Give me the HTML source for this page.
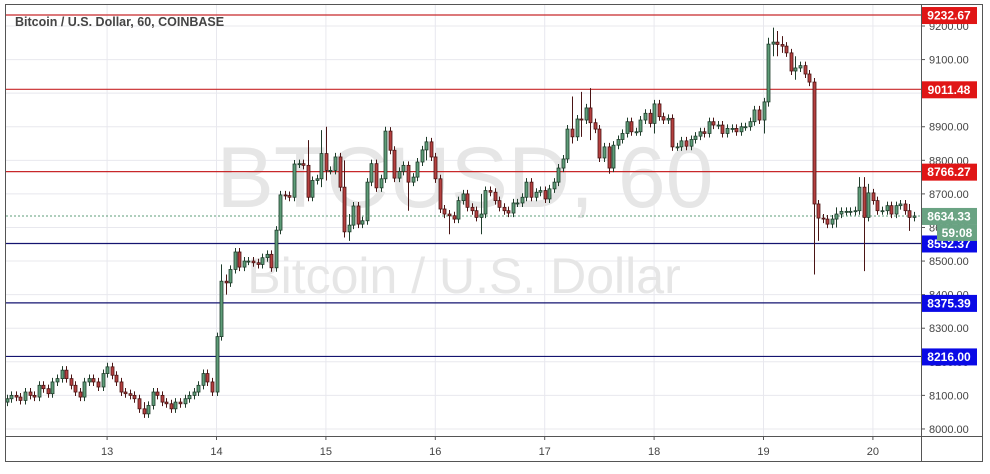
<!DOCTYPE html>
<html><head><meta charset="utf-8">
<style>
html,body{margin:0;padding:0;background:#fff;}
body{width:990px;height:469px;overflow:hidden;font-family:"Liberation Sans",sans-serif;}
svg text{font-family:"Liberation Sans",sans-serif;}
</style></head>
<body>
<svg id="chart" width="990" height="469" viewBox="0 0 990 469" xmlns="http://www.w3.org/2000/svg">
<rect x="0" y="0" width="990" height="469" fill="#fff"/>
<g id="grid"></g>
<g id="watermark">
  <text x="465" y="207" text-anchor="middle" font-size="86" fill="#e6e6e6">BTCUSD, 60</text>
  <text x="464" y="293" text-anchor="middle" font-size="50" fill="#e6e6e6">Bitcoin / U.S. Dollar</text>
</g>
<g id="levels"></g>
<g id="candles"></g>
<g id="axes"></g>
<text x="15" y="26" font-size="12.5" font-weight="bold" fill="#444">Bitcoin / U.S. Dollar, 60, COINBASE</text>
</svg>
<script>
const closes = [
8090,8100,8095,8085,8110,8100,8095,8130,8120,8105,8140,8150,8175,8150,8130,8110,8095,8140,8150,8140,8125,8165,
8185,8160,8140,8110,8105,8100,8090,8060,8045,8070,8110,8100,8080,8075,8060,8080,8075,8090,8100,8110,8130,8165,8140,8110,
8275,8440,8435,8475,8527,8482,8500,8500,8495,8490,8510,8520,8480,8592,8697,8695,8690,8789,8790,8785,8690,8740,8745,8820,
8770,8770,8810,8720,8587,8607,8664,8610,8620,8735,8790,8718,8745,8887,8830,8747,8767,8785,8735,8750,8795,8831,8855,8810,
8745,8655,8640,8635,8625,8680,8700,8660,8650,8630,8640,8710,8705,8680,8660,8650,8643,8673,8673,8690,8735,8690,8705,8710,
8685,8715,8735,8777,8804,8893,8870,8923,8920,8956,8912,8893,8807,8840,8777,8845,8862,8880,8915,8885,8885,8920,8940,8910,
8968,8930,8920,8925,8840,8840,8858,8842,8862,8872,8885,8880,8915,8905,8905,8880,8895,8895,8885,8900,8900,8915,8950,8920,
8974,9146,9152,9145,9140,9120,9066,9075,9082,9057,9033,8670,8628,8625,8610,8625,8640,8648,8648,8648,8650,8720,8630,8703,
8680,8650,8650,8665,8640,8665,8670,8650,8630,8634.33
];
const firstOpen = 8080;
const firstHour = 2; // first candle: day 12, 02:00
// notable wick extremes [index, high, low]
const wickExtremes = [
[12,8185,8150],[22,8195,8170],[30,8080,8040],[47,8490,8380],[48,8460,8400],[66,8860,8690],[69,8890,8720],
[70,8900,8740],[74,8800,8570],[75,8640,8560],[83,8900,8740],[88,8780,8650],[92,8870,8800],
[97,8630,8580],[104,8700,8580],[124,8990,8850],[126,9004,8870],[128,9015,8860],[132,8800,8760],
[142,8975,8880],[165,8960,8910],[166,8985,8880],[167,9165,8960],[168,9195,9110],[169,9185,9110],[170,9170,9120],
[173,9110,9040],[177,9040,8460],[178,8640,8560],[182,8660,8600],[187,8750,8640],[188,8750,8470],[189,8730,8620],[198,8670,8590]
];
const yTicks = [8000,8100,8200,8300,8400,8500,8600,8700,8800,8900,9000,9100,9200];
const xTickDays = [13,14,15,16,17,18,19,20];
const levelPrices = [9232.67,9011.48,8766.27,8552.37,8375.39,8216.00];
const levelKinds = ["resistance","resistance","resistance","support","support","support"];

const NS="http://www.w3.org/2000/svg";
const PL=6, PR=921, PT=5, PB=436;
function y(v){return 26+(9200-v)*0.3358;}
function x(day){return -2.3+(day-12)*109.4;}
function mk(tag,attrs,parent){const e=document.createElementNS(NS,tag);for(const k in attrs)e.setAttribute(k,attrs[k]);parent.appendChild(e);return e;}

const grid=document.getElementById('grid');
const axes=document.getElementById('axes');
const levels=document.getElementById('levels');
const cg=document.getElementById('candles');

yTicks.forEach(v=>{
  const l=mk('line',{x1:PL,x2:PR,y1:y(v),y2:y(v),stroke:'#e8e8ee','stroke-width':1},grid);
  
  
});
xTickDays.forEach(d=>{
  const l=mk('line',{x1:x(d),x2:x(d),y1:PT,y2:PB,stroke:'#e8e8ee','stroke-width':1},grid);
  
  
});

const fr=mk('rect',{x:5.5,y:4.5,width:977,height:457,fill:'none',stroke:'#555','stroke-width':1},axes);


const ax1=mk('line',{x1:PR+0.5,x2:PR+0.5,y1:PT,y2:462,stroke:'#555'},axes);


const ax2=mk('line',{x1:5,x2:983,y1:PB+0.5,y2:PB+0.5,stroke:'#555'},axes);



yTicks.forEach(v=>{
  const t=mk('line',{x1:PR,x2:PR+4,y1:y(v),y2:y(v),stroke:'#555'},axes);
  
  
  const tx=mk('text',{x:929,y:y(v)+4,'font-size':11,fill:'#444'},axes);
  tx.textContent=v.toFixed(2);
  
  
});
xTickDays.forEach(d=>{
  const t=mk('line',{x1:x(d),x2:x(d),y1:PB,y2:PB+4,stroke:'#555'},axes);
  
  
  const tx=mk('text',{x:x(d),y:455,'font-size':11,fill:'#444','text-anchor':'middle'},axes);
  tx.textContent=String(d);
  
  
});

const wmap={};wickExtremes.forEach(w=>wmap[w[0]]=w);
closes.forEach((c,i)=>{
  const o=i===0?firstOpen:closes[i-1];
  const up=c>=o;
  let hi=Math.max(o,c)+12, lo=Math.min(o,c)-12;
  if(wmap[i]){hi=Math.max(hi,wmap[i][1]);lo=Math.min(lo,wmap[i][2]);}
  const cx=Math.round(x(12+(firstHour+i)/24));
  const g=mk('g',{},cg);
  
  
  const stroke=up?'#1f3d2b':'#4a1414';
  mk('line',{x1:cx+0.5,x2:cx+0.5,y1:y(hi),y2:y(lo),stroke:stroke,'stroke-width':1},g);
  const top=y(Math.max(o,c)), bot=y(Math.min(o,c));
  mk('rect',{x:cx-1,y:top,width:3,height:Math.max(1,bot-top),fill:up?'#5e9c78':'#b5403f',stroke:stroke,'stroke-width':0.8},g);
});

const last=closes[closes.length-1];
const cl=mk('line',{x1:PL,x2:PR,y1:y(last),y2:y(last),stroke:'#5e9c78','stroke-width':1,'stroke-dasharray':'2,2'},levels);



levelPrices.forEach((p,i)=>{
  const res=levelKinds[i]==='resistance';
  const col=res?'#c8282a':'#141470';
  const l=mk('line',{x1:PL,x2:PR,y1:y(p),y2:y(p),stroke:col,'stroke-width':1.2},levels);
  
  
  const r=mk('rect',{x:922,y:y(p)-8,width:55,height:17,fill:res?'#e01616':'#0a0ae6'},axes);
  
  
  const t=mk('text',{x:949,y:y(p)+4.5,'font-size':12,'font-weight':'bold',fill:'#fff','text-anchor':'middle'},axes);
  t.textContent=p.toFixed(2);
  
  
});

const cr=mk('rect',{x:922,y:y(last)-8,width:55,height:17,fill:'#6aa383'},axes);


const ct=mk('text',{x:949,y:y(last)+4.5,'font-size':12,'font-weight':'bold',fill:'#fff','text-anchor':'middle'},axes);
ct.textContent=last.toFixed(2);


const tr=mk('rect',{x:937,y:y(last)+9,width:40,height:16,fill:'#6aa383'},axes);


const tt=mk('text',{x:957,y:y(last)+21,'font-size':12,'font-weight':'bold',fill:'#fff','text-anchor':'middle'},axes);
tt.textContent='59:08';


</script>
</body></html>
